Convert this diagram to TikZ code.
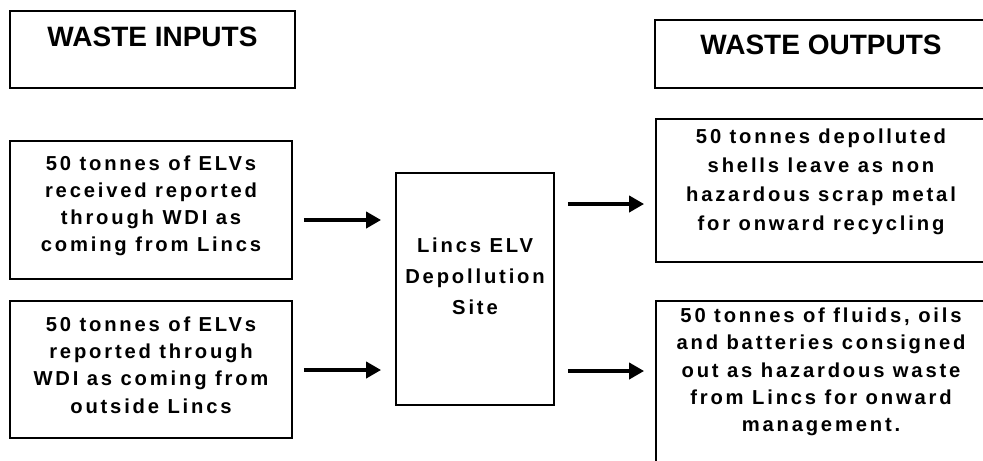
\documentclass[tikz,border=0pt]{standalone}
\usepackage{fontspec}
\setmainfont{Liberation Sans}
\newfontfamily\boxfont{Liberation Sans}[LetterSpace=14]
\usetikzlibrary{arrows.meta}

\tikzset{
  box/.style={draw, line width=0.9pt, inner sep=0pt},
  head/.style={font=\bfseries\fontsize{14}{16}\selectfont, inner sep=0pt},
  txt/.style={align=center, inner sep=0pt, font=\boxfont\bfseries\fontsize{10.1}{#1}\selectfont},
  txt/.default=13.6pt,
  flow/.style={line width=2pt, -{Triangle[length=7.5pt,width=8pt]}}
}

\begin{document}
\begin{tikzpicture}[x=0.5pt,y=-0.5pt]
\useasboundingbox (0,0) rectangle (983,460);
\clip (0,0) rectangle (983,460);

% headings
\node[box,minimum width=142.5pt,minimum height=38.5pt] (inhead) at (152.5,49.5) {};
\node[head] (inheadtxt) at (152.5,37) {WASTE INPUTS};
\node[box,minimum width=166pt,minimum height=34pt] (outhead) at (821,54) {};
\node[head] (outheadtxt) at (821,45) {WASTE OUTPUTS};

% inputs
\node[box,minimum width=141pt,minimum height=69pt] (inA) at (151,210) {};
\node[txt] (inAtxt) at (151,206) {50 tonnes of ELVs\\received reported\\through WDI as\\coming from Lincs};
\node[box,minimum width=141pt,minimum height=68.5pt] (inB) at (151,369.5) {};
\node[txt] (inBtxt) at (151,365) {50 tonnes of ELVs\\reported through\\WDI as coming from\\outside Lincs};

% site
\node[box,minimum width=79pt,minimum height=116pt] (site) at (475,289) {};
\node[txt=15.5pt] (sitetxt) at (475,276) {Lincs ELV\\Depollution\\Site};

% outputs
\node[box,minimum width=165.5pt,minimum height=71.5pt] (outA) at (821.5,190.5) {};
\node[txt=14.5pt] (outAtxt) at (821,181.5) {50 tonnes depolluted\\shells leave as non\\hazardous scrap metal\\for onward recycling};
\node[box,minimum width=165.5pt,minimum height=89.5pt] (outB) at (821.5,390.5) {};
\node[txt] (outBtxt) at (821,372) {50 tonnes of fluids, oils\\and batteries consigned\\out as hazardous waste\\from Lincs for onward\\management.};

% arrows
\draw[flow,shorten >=7pt] (inA.east) ++(11,10) coordinate (a1) -- (site.west |- a1);
\draw[flow,shorten >=7pt] (inB.east) ++(11,0.5) coordinate (a2) -- (site.west |- a2);
\draw[flow,shorten >=5.5pt] (site.east) ++(13,-85) coordinate (a3) -- (outA.west |- a3);
\draw[flow,shorten >=5.5pt] (site.east) ++(13,82) coordinate (a4) -- (outB.west |- a4);
\end{tikzpicture}
\end{document}
